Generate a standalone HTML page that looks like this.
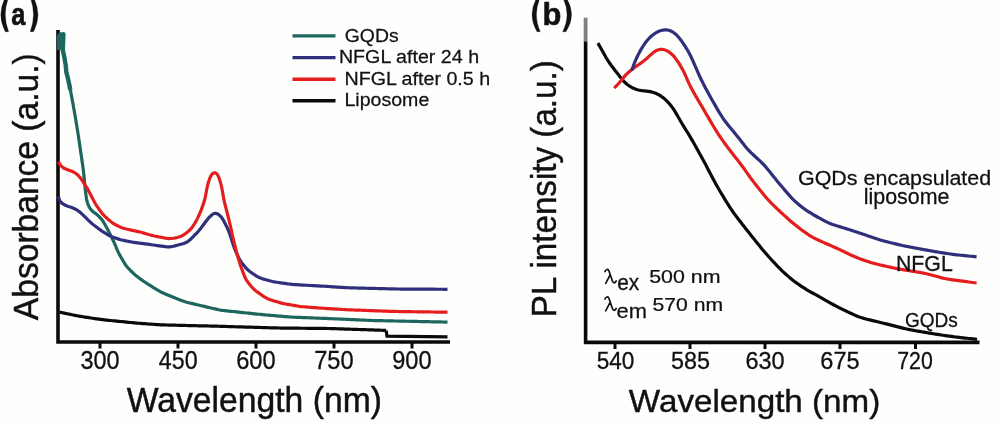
<!DOCTYPE html>
<html><head><meta charset="utf-8"><style>
html,body{margin:0;padding:0;background:#fefefd;}
svg{display:block;filter:blur(0.35px);}
</style></head><body>
<svg width="998" height="423" viewBox="0 0 998 423">
<rect width="998" height="423" fill="#fefefd"/>
<path d="M58,30 L58,342 L450,342" fill="none" stroke="#0a0a0a" stroke-width="3.6" stroke-linecap="butt"/>
<line x1="100" y1="343" x2="100" y2="348.5" stroke="#0a0a0a" stroke-width="3"/>
<line x1="178" y1="343" x2="178" y2="348.5" stroke="#0a0a0a" stroke-width="3"/>
<line x1="256" y1="343" x2="256" y2="348.5" stroke="#0a0a0a" stroke-width="3"/>
<line x1="334" y1="343" x2="334" y2="348.5" stroke="#0a0a0a" stroke-width="3"/>
<line x1="412" y1="343" x2="412" y2="348.5" stroke="#0a0a0a" stroke-width="3"/>
<path d="M59.20,50.00 L59.20,36.00 L60.50,34.20 L61.50,44.00 L63.40,34.20 L62.80,50.00 L64.50,58.00 L65.80,66.00 L66.30,72.00 L68.30,80.00 L70.40,90.00" fill="none" stroke="#1d665e" stroke-width="4.4" stroke-linejoin="round"/>
<path d="M59.30,312.10 L61.26,312.51 L63.23,312.91 L65.19,313.32 L67.15,313.73 L69.12,314.13 L71.08,314.54 L73.04,314.95 L75.01,315.35 L76.97,315.73 L78.94,316.10 L80.92,316.43 L82.90,316.75 L84.88,317.05 L86.86,317.35 L88.84,317.66 L90.83,317.96 L92.81,318.26 L94.79,318.56 L96.77,318.86 L98.76,319.15 L100.74,319.43 L102.73,319.69 L104.72,319.92 L106.71,320.13 L108.71,320.33 L110.70,320.53 L112.70,320.73 L114.69,320.92 L116.69,321.12 L118.68,321.32 L120.68,321.51 L122.67,321.71 L124.67,321.91 L126.66,322.10 L128.66,322.30 L130.65,322.50 L132.65,322.69 L134.65,322.88 L136.64,323.07 L138.64,323.24 L140.64,323.40 L142.64,323.55 L144.64,323.69 L146.64,323.84 L148.64,323.98 L150.64,324.12 L152.63,324.27 L154.63,324.41 L156.63,324.55 L158.63,324.69 L160.64,324.80 L162.64,324.90 L164.64,324.97 L166.64,325.02 L168.65,325.07 L170.65,325.12 L172.66,325.17 L174.66,325.21 L176.67,325.26 L178.67,325.31 L180.67,325.36 L182.68,325.40 L184.68,325.45 L186.69,325.50 L188.69,325.55 L190.70,325.59 L192.70,325.64 L194.70,325.69 L196.71,325.74 L198.71,325.78 L200.72,325.83 L202.72,325.88 L204.73,325.93 L206.73,325.97 L208.73,326.02 L210.74,326.07 L212.74,326.12 L214.75,326.16 L216.75,326.21 L218.76,326.26 L220.76,326.31 L222.76,326.37 L224.77,326.43 L226.77,326.49 L228.78,326.55 L230.78,326.61 L232.78,326.67 L234.79,326.73 L236.79,326.79 L238.80,326.85 L240.80,326.91 L242.80,326.97 L244.81,327.03 L246.81,327.09 L248.82,327.15 L250.82,327.21 L252.82,327.27 L254.83,327.33 L256.83,327.39 L258.84,327.45 L260.84,327.51 L262.84,327.57 L264.85,327.63 L266.85,327.69 L268.85,327.75 L270.86,327.81 L272.86,327.87 L274.87,327.92 L276.87,327.97 L278.88,328.00 L280.88,328.03 L282.88,328.05 L284.89,328.07 L286.89,328.09 L288.90,328.11 L290.90,328.13 L292.91,328.15 L294.91,328.17 L296.92,328.19 L298.92,328.21 L300.93,328.23 L302.93,328.25 L304.94,328.27 L306.94,328.29 L308.95,328.30 L310.95,328.32 L312.96,328.34 L314.96,328.36 L316.97,328.38 L318.97,328.40 L320.97,328.42 L322.98,328.44 L324.98,328.46 L326.99,328.49 L328.99,328.52 L331.00,328.57 L333.00,328.63 L335.01,328.69 L337.01,328.76 L339.01,328.82 L341.02,328.89 L343.02,328.96 L345.02,329.03 L347.03,329.09 L349.03,329.16 L351.03,329.23 L353.04,329.29 L355.04,329.36 L357.05,329.43 L359.05,329.50 L361.05,329.56 L363.06,329.63 L365.06,329.70 L367.06,329.76 L369.07,329.83 L371.07,329.90 L373.08,329.96 L375.08,330.03 L377.08,330.10 L379.09,330.17 L381.09,330.23 L383.09,330.30 L385.10,330.37 L386.10,330.40" fill="none" stroke="#0a0a0a" stroke-width="3.2" stroke-linejoin="round"/>
<path d="M386.10,330.40 L387.00,336.10 L447.50,336.80" fill="none" stroke="#0a0a0a" stroke-width="3.2" stroke-linejoin="miter"/>
<path d="M70.40,90.00 L70.76,91.97 L71.13,93.94 L71.49,95.90 L71.86,97.87 L72.22,99.84 L72.59,101.81 L72.95,103.77 L73.31,105.74 L73.67,107.71 L74.02,109.68 L74.36,111.65 L74.70,113.63 L75.03,115.60 L75.37,117.57 L75.70,119.54 L76.03,121.52 L76.37,123.49 L76.70,125.46 L77.03,127.44 L77.35,129.41 L77.66,131.39 L77.97,133.37 L78.26,135.35 L78.56,137.33 L78.85,139.30 L79.14,141.28 L79.44,143.26 L79.73,145.24 L80.02,147.22 L80.32,149.20 L80.61,151.18 L80.90,153.16 L81.19,155.14 L81.48,157.12 L81.77,159.10 L82.05,161.08 L82.34,163.06 L82.62,165.04 L82.90,167.03 L83.17,169.01 L83.41,170.99 L83.63,172.98 L83.84,174.97 L84.04,176.96 L84.23,178.96 L84.42,180.95 L84.62,182.94 L84.81,184.93 L85.01,186.92 L85.22,188.91 L85.45,190.90 L85.69,192.88 L85.95,194.87 L86.23,196.85 L86.54,198.82 L86.93,200.77 L87.45,202.68 L88.10,204.55 L88.88,206.37 L89.80,208.09 L90.91,209.65 L92.25,211.00 L93.78,212.21 L95.37,213.37 L96.92,214.60 L98.41,215.92 L99.82,217.32 L101.15,218.80 L102.37,220.36 L103.47,222.01 L104.49,223.72 L105.47,225.46 L106.44,227.21 L107.39,228.97 L108.32,230.74 L109.24,232.52 L110.15,234.30 L111.04,236.09 L111.94,237.88 L112.81,239.68 L113.67,241.49 L114.48,243.32 L115.26,245.16 L116.02,247.01 L116.78,248.86 L117.58,250.69 L118.43,252.49 L119.35,254.27 L120.31,256.02 L121.29,257.76 L122.29,259.50 L123.29,261.23 L124.31,262.94 L125.39,264.61 L126.57,266.21 L127.85,267.73 L129.22,269.18 L130.62,270.61 L132.04,272.01 L133.48,273.40 L134.96,274.73 L136.50,276.01 L138.07,277.24 L139.67,278.44 L141.28,279.62 L142.91,280.79 L144.55,281.94 L146.21,283.04 L147.90,284.12 L149.60,285.17 L151.30,286.22 L153.01,287.26 L154.72,288.31 L156.43,289.35 L158.14,290.38 L159.87,291.37 L161.64,292.30 L163.44,293.15 L165.28,293.94 L167.13,294.70 L168.98,295.45 L170.84,296.20 L172.69,296.95 L174.55,297.69 L176.41,298.44 L178.26,299.19 L180.12,299.93 L181.99,300.65 L183.86,301.33 L185.76,301.94 L187.68,302.48 L189.62,302.97 L191.57,303.43 L193.52,303.89 L195.47,304.35 L197.41,304.80 L199.36,305.26 L201.31,305.71 L203.26,306.17 L205.21,306.62 L207.16,307.08 L209.11,307.54 L211.05,307.99 L213.00,308.45 L214.95,308.90 L216.90,309.34 L218.86,309.75 L220.82,310.10 L222.80,310.40 L224.78,310.64 L226.77,310.86 L228.76,311.08 L230.75,311.29 L232.74,311.50 L234.73,311.71 L236.72,311.93 L238.71,312.14 L240.70,312.35 L242.69,312.56 L244.68,312.77 L246.67,312.98 L248.66,313.20 L250.65,313.41 L252.64,313.62 L254.63,313.83 L256.62,314.04 L258.61,314.25 L260.60,314.46 L262.59,314.65 L264.58,314.84 L266.58,315.02 L268.57,315.19 L270.57,315.36 L272.56,315.53 L274.55,315.70 L276.55,315.87 L278.54,316.04 L280.53,316.21 L282.53,316.38 L284.52,316.55 L286.52,316.71 L288.51,316.87 L290.51,317.01 L292.50,317.13 L294.50,317.23 L296.50,317.31 L298.50,317.39 L300.50,317.46 L302.50,317.54 L304.50,317.62 L306.50,317.69 L308.50,317.77 L310.50,317.85 L312.50,317.92 L314.50,318.00 L316.50,318.07 L318.50,318.15 L320.50,318.23 L322.50,318.31 L324.50,318.39 L326.50,318.47 L328.49,318.56 L330.49,318.65 L332.49,318.74 L334.49,318.83 L336.49,318.91 L338.49,319.00 L340.49,319.09 L342.49,319.18 L344.49,319.27 L346.49,319.36 L348.49,319.45 L350.48,319.54 L352.48,319.63 L354.48,319.72 L356.48,319.81 L358.48,319.90 L360.48,319.99 L362.48,320.08 L364.48,320.17 L366.48,320.26 L368.48,320.34 L370.48,320.42 L372.48,320.49 L374.48,320.55 L376.48,320.59 L378.48,320.64 L380.48,320.68 L382.48,320.72 L384.48,320.77 L386.48,320.81 L388.48,320.85 L390.48,320.89 L392.48,320.94 L394.48,320.98 L396.48,321.02 L398.48,321.06 L400.48,321.10 L402.49,321.15 L404.49,321.19 L406.49,321.23 L408.49,321.27 L410.49,321.32 L412.49,321.36 L414.49,321.40 L416.49,321.44 L418.49,321.49 L420.49,321.53 L422.49,321.57 L424.49,321.61 L426.49,321.66 L428.49,321.70 L430.49,321.74 L432.50,321.78 L434.50,321.82 L436.50,321.87 L438.50,321.91 L440.50,321.95 L442.50,321.99 L444.50,322.04 L446.50,322.08 L447.50,322.10" fill="none" stroke="#1d665e" stroke-width="3.2" stroke-linejoin="round"/>
<path d="M58.50,196.20 L58.92,198.12 L59.48,199.93 L60.34,201.54 L61.56,202.89 L63.09,204.01 L64.80,204.95 L66.61,205.74 L68.48,206.43 L70.37,207.06 L72.24,207.74 L74.07,208.52 L75.83,209.43 L77.53,210.46 L79.15,211.61 L80.70,212.86 L82.18,214.19 L83.63,215.57 L85.06,216.98 L86.48,218.39 L87.90,219.79 L89.33,221.19 L90.80,222.55 L92.30,223.87 L93.85,225.13 L95.43,226.36 L97.03,227.57 L98.63,228.76 L100.26,229.92 L101.91,231.05 L103.59,232.14 L105.28,233.21 L106.99,234.25 L108.72,235.24 L110.50,236.14 L112.33,236.92 L114.20,237.62 L116.09,238.27 L117.99,238.88 L119.91,239.45 L121.84,239.97 L123.79,240.43 L125.74,240.85 L127.70,241.25 L129.67,241.63 L131.64,242.00 L133.61,242.33 L135.59,242.62 L137.57,242.89 L139.56,243.15 L141.55,243.41 L143.53,243.67 L145.52,243.93 L147.50,244.19 L149.49,244.46 L151.47,244.73 L153.45,245.01 L155.44,245.29 L157.42,245.57 L159.40,245.85 L161.38,246.13 L163.37,246.41 L165.35,246.65 L167.32,246.82 L169.29,246.84 L171.24,246.65 L173.19,246.28 L175.13,245.82 L177.06,245.32 L179.00,244.80 L180.93,244.28 L182.85,243.74 L184.72,243.11 L186.50,242.32 L188.14,241.31 L189.66,240.08 L191.11,238.73 L192.53,237.32 L193.94,235.90 L195.35,234.47 L196.74,233.04 L198.10,231.57 L199.40,230.06 L200.65,228.50 L201.86,226.90 L203.05,225.29 L204.23,223.68 L205.42,222.07 L206.62,220.47 L207.87,218.91 L209.19,217.42 L210.58,216.02 L212.03,214.75 L213.52,213.78 L215.05,213.32 L216.60,213.53 L218.16,214.29 L219.66,215.43 L221.03,216.79 L222.21,218.34 L223.24,220.01 L224.19,221.77 L225.10,223.55 L225.99,225.34 L226.88,227.13 L227.74,228.94 L228.53,230.77 L229.25,232.63 L229.91,234.52 L230.53,236.42 L231.15,238.33 L231.76,240.23 L232.37,242.14 L232.99,244.05 L233.62,245.95 L234.28,247.83 L235.00,249.69 L235.79,251.53 L236.61,253.36 L237.46,255.17 L238.33,256.97 L239.24,258.75 L240.23,260.47 L241.33,262.13 L242.52,263.73 L243.76,265.30 L245.03,266.84 L246.34,268.34 L247.74,269.75 L249.23,271.04 L250.82,272.24 L252.46,273.39 L254.12,274.50 L255.79,275.59 L257.50,276.61 L259.26,277.51 L261.09,278.26 L262.98,278.90 L264.89,279.48 L266.82,280.03 L268.74,280.56 L270.68,281.06 L272.63,281.51 L274.59,281.89 L276.56,282.22 L278.54,282.52 L280.52,282.82 L282.50,283.11 L284.48,283.40 L286.47,283.69 L288.45,283.97 L290.44,284.21 L292.43,284.41 L294.42,284.56 L296.42,284.69 L298.42,284.81 L300.42,284.92 L302.42,285.03 L304.42,285.14 L306.42,285.26 L308.41,285.37 L310.41,285.48 L312.41,285.59 L314.41,285.70 L316.41,285.82 L318.41,285.93 L320.41,286.04 L322.41,286.16 L324.41,286.27 L326.41,286.40 L328.41,286.52 L330.40,286.65 L332.40,286.78 L334.40,286.91 L336.40,287.04 L338.40,287.17 L340.40,287.30 L342.40,287.42 L344.39,287.55 L346.39,287.66 L348.39,287.76 L350.39,287.84 L352.39,287.90 L354.40,287.96 L356.40,288.01 L358.40,288.06 L360.40,288.11 L362.40,288.16 L364.41,288.21 L366.41,288.26 L368.41,288.31 L370.41,288.36 L372.41,288.41 L374.42,288.47 L376.42,288.52 L378.42,288.57 L380.42,288.62 L382.42,288.67 L384.42,288.72 L386.43,288.77 L388.43,288.82 L390.43,288.87 L392.43,288.92 L394.43,288.96 L396.44,288.99 L398.44,289.01 L400.44,289.03 L402.44,289.04 L404.45,289.05 L406.45,289.06 L408.45,289.07 L410.45,289.09 L412.46,289.10 L414.46,289.11 L416.46,289.12 L418.46,289.13 L420.47,289.14 L422.47,289.16 L424.47,289.17 L426.47,289.18 L428.48,289.19 L430.48,289.20 L432.48,289.21 L434.48,289.22 L436.49,289.24 L438.49,289.25 L440.49,289.26 L442.49,289.27 L444.50,289.28 L446.50,289.29 L447.50,289.30" fill="none" stroke="#302f7c" stroke-width="3.2" stroke-linejoin="round"/>
<path d="M58.50,161.50 L59.34,163.27 L60.31,164.93 L61.52,166.37 L62.99,167.56 L64.67,168.52 L66.48,169.31 L68.35,169.99 L70.23,170.64 L72.08,171.35 L73.85,172.21 L75.52,173.24 L77.08,174.44 L78.54,175.78 L79.85,177.24 L81.04,178.83 L82.15,180.48 L83.23,182.17 L84.31,183.85 L85.40,185.53 L86.48,187.22 L87.52,188.92 L88.51,190.66 L89.46,192.42 L90.38,194.20 L91.29,195.99 L92.19,197.77 L93.10,199.55 L94.03,201.33 L95.00,203.08 L96.02,204.79 L97.12,206.46 L98.26,208.10 L99.43,209.73 L100.61,211.34 L101.82,212.93 L103.10,214.46 L104.45,215.92 L105.89,217.30 L107.37,218.64 L108.88,219.96 L110.41,221.24 L111.99,222.46 L113.63,223.58 L115.34,224.59 L117.11,225.52 L118.90,226.40 L120.72,227.22 L122.58,227.92 L124.48,228.52 L126.41,229.02 L128.36,229.47 L130.31,229.91 L132.27,230.34 L134.23,230.75 L136.19,231.16 L138.15,231.58 L140.09,232.05 L142.03,232.56 L143.95,233.12 L145.87,233.69 L147.79,234.26 L149.71,234.82 L151.64,235.33 L153.59,235.80 L155.54,236.22 L157.51,236.62 L159.47,237.01 L161.44,237.39 L163.40,237.77 L165.37,238.13 L167.33,238.41 L169.30,238.54 L171.26,238.47 L173.23,238.23 L175.19,237.89 L177.14,237.48 L179.06,236.99 L180.90,236.33 L182.65,235.46 L184.32,234.41 L185.93,233.25 L187.51,232.03 L189.03,230.75 L190.44,229.36 L191.71,227.85 L192.86,226.24 L193.96,224.57 L195.01,222.87 L196.02,221.15 L196.97,219.39 L197.86,217.60 L198.70,215.78 L199.52,213.96 L200.31,212.12 L201.07,210.27 L201.79,208.40 L202.47,206.52 L203.12,204.62 L203.74,202.72 L204.33,200.81 L204.85,198.88 L205.31,196.94 L205.70,194.97 L206.07,193.01 L206.42,191.04 L206.79,189.07 L207.19,187.11 L207.64,185.16 L208.16,183.23 L208.75,181.32 L209.39,179.43 L210.08,177.57 L210.91,175.82 L211.92,174.29 L213.13,173.17 L214.46,172.71 L215.79,173.05 L217.00,174.08 L218.01,175.58 L218.80,177.33 L219.46,179.19 L220.05,181.10 L220.60,183.02 L221.12,184.96 L221.59,186.90 L221.99,188.86 L222.35,190.83 L222.69,192.80 L223.03,194.78 L223.37,196.75 L223.74,198.72 L224.15,200.68 L224.59,202.63 L225.07,204.57 L225.56,206.51 L226.05,208.46 L226.54,210.40 L227.04,212.34 L227.53,214.28 L228.02,216.22 L228.52,218.16 L229.00,220.10 L229.48,222.05 L229.95,224.00 L230.39,225.95 L230.82,227.91 L231.25,229.86 L231.67,231.82 L232.09,233.78 L232.52,235.73 L232.97,237.69 L233.42,239.64 L233.89,241.58 L234.37,243.53 L234.86,245.47 L235.34,247.42 L235.83,249.36 L236.34,251.30 L236.87,253.23 L237.41,255.16 L237.95,257.08 L238.51,259.01 L239.06,260.93 L239.64,262.85 L240.26,264.75 L240.91,266.65 L241.59,268.53 L242.29,270.40 L243.00,272.28 L243.71,274.15 L244.45,276.01 L245.25,277.83 L246.17,279.58 L247.23,281.25 L248.40,282.86 L249.64,284.43 L250.91,285.97 L252.23,287.46 L253.62,288.88 L255.11,290.19 L256.68,291.42 L258.29,292.61 L259.91,293.78 L261.54,294.95 L263.18,296.09 L264.84,297.18 L266.57,298.15 L268.37,298.98 L270.23,299.68 L272.12,300.31 L274.03,300.91 L275.94,301.51 L277.86,302.09 L279.78,302.64 L281.72,303.15 L283.67,303.58 L285.63,303.97 L287.60,304.33 L289.57,304.67 L291.55,305.02 L293.52,305.36 L295.49,305.70 L297.47,306.03 L299.45,306.33 L301.43,306.58 L303.42,306.78 L305.42,306.95 L307.41,307.10 L309.41,307.25 L311.41,307.40 L313.41,307.54 L315.40,307.69 L317.40,307.84 L319.40,307.99 L321.40,308.13 L323.40,308.27 L325.39,308.41 L327.39,308.54 L329.39,308.66 L331.39,308.79 L333.39,308.91 L335.39,309.03 L337.39,309.15 L339.39,309.27 L341.39,309.39 L343.39,309.51 L345.39,309.62 L347.39,309.73 L349.39,309.83 L351.39,309.91 L353.39,309.99 L355.39,310.06 L357.39,310.13 L359.40,310.20 L361.40,310.27 L363.40,310.35 L365.40,310.42 L367.40,310.49 L369.40,310.56 L371.41,310.63 L373.41,310.71 L375.41,310.78 L377.41,310.85 L379.41,310.92 L381.41,310.99 L383.42,311.07 L385.42,311.14 L387.42,311.21 L389.42,311.28 L391.42,311.35 L393.43,311.42 L395.43,311.47 L397.43,311.52 L399.43,311.55 L401.43,311.58 L403.44,311.61 L405.44,311.63 L407.44,311.66 L409.45,311.69 L411.45,311.71 L413.45,311.74 L415.45,311.77 L417.46,311.80 L419.46,311.82 L421.46,311.85 L423.47,311.88 L425.47,311.90 L427.47,311.93 L429.47,311.96 L431.48,311.98 L433.48,312.01 L435.48,312.04 L437.49,312.07 L439.49,312.09 L441.49,312.12 L443.49,312.15 L445.50,312.17 L447.50,312.20" fill="none" stroke="#e41e1e" stroke-width="3.2" stroke-linejoin="round"/>
<line x1="292.5" y1="35.9" x2="335.5" y2="35.9" stroke="#1d665e" stroke-width="3.4"/>
<line x1="292.5" y1="57.6" x2="335.5" y2="57.6" stroke="#302f7c" stroke-width="3.4"/>
<line x1="292.5" y1="79.3" x2="335.5" y2="79.3" stroke="#e41e1e" stroke-width="3.4"/>
<line x1="292.5" y1="100.7" x2="335.5" y2="100.7" stroke="#0a0a0a" stroke-width="3.4"/>
<text x="344.78" y="41.70" font-family='"Liberation Sans", sans-serif' font-size="19.28" font-weight="normal" font-style="normal" textLength="53.86" lengthAdjust="spacingAndGlyphs" fill="#111111" stroke="#111111" stroke-width="0.251">GQDs</text>
<text x="338.93" y="62.90" font-family='"Liberation Sans", sans-serif' font-size="19.27" font-weight="normal" font-style="normal" textLength="140.16" lengthAdjust="spacingAndGlyphs" fill="#111111" stroke="#111111" stroke-width="0.251">NFGL after 24 h</text>
<text x="344.43" y="85.00" font-family='"Liberation Sans", sans-serif' font-size="19.27" font-weight="normal" font-style="normal" textLength="145.77" lengthAdjust="spacingAndGlyphs" fill="#111111" stroke="#111111" stroke-width="0.251">NFGL after 0.5 h</text>
<text x="344.44" y="106.30" font-family='"Liberation Sans", sans-serif' font-size="19.27" font-weight="normal" font-style="normal" textLength="84.87" lengthAdjust="spacingAndGlyphs" fill="#111111" stroke="#111111" stroke-width="0.251">Liposome</text>
<text x="80.47" y="369.30" font-family='"Liberation Sans", sans-serif' font-size="24.87" font-weight="normal" font-style="normal" textLength="39.08" lengthAdjust="spacingAndGlyphs" fill="#111111" stroke="#111111" stroke-width="0.323">300</text>
<text x="158.83" y="369.30" font-family='"Liberation Sans", sans-serif' font-size="24.87" font-weight="normal" font-style="normal" textLength="38.72" lengthAdjust="spacingAndGlyphs" fill="#111111" stroke="#111111" stroke-width="0.323">450</text>
<text x="236.17" y="369.30" font-family='"Liberation Sans", sans-serif' font-size="24.87" font-weight="normal" font-style="normal" textLength="39.39" lengthAdjust="spacingAndGlyphs" fill="#111111" stroke="#111111" stroke-width="0.323">600</text>
<text x="314.17" y="369.30" font-family='"Liberation Sans", sans-serif' font-size="24.87" font-weight="normal" font-style="normal" textLength="39.39" lengthAdjust="spacingAndGlyphs" fill="#111111" stroke="#111111" stroke-width="0.323">750</text>
<text x="392.23" y="369.30" font-family='"Liberation Sans", sans-serif' font-size="24.87" font-weight="normal" font-style="normal" textLength="39.33" lengthAdjust="spacingAndGlyphs" fill="#111111" stroke="#111111" stroke-width="0.323">900</text>
<text x="126.78" y="411.50" font-family='"Liberation Sans", sans-serif' font-size="34.25" font-weight="normal" font-style="normal" textLength="255.17" lengthAdjust="spacingAndGlyphs" fill="#111111" stroke="#111111" stroke-width="0.445">Wavelength (nm)</text>
<text transform="translate(38.30,320.13) rotate(-90)" x="0" y="0" font-family='"Liberation Sans", sans-serif' font-size="34.55" textLength="266.85" lengthAdjust="spacingAndGlyphs" fill="#111111" stroke="#111111" stroke-width="0.449">Absorbance (a.u.)</text>
<path d="M5.3,-2.5 Q-3.7,14.6 5.3,31.7 L8.6,31.7 Q1.9,14.6 8.6,-2.5 Z M33.5,-2.5 Q42.4,14.6 33.5,31.7 L30.2,31.7 Q36.8,14.6 30.2,-2.5 Z" fill="#111111" stroke="#111111" stroke-width="0.3"/>
<text x="11.13" y="25.30" font-family='"Liberation Sans", sans-serif' font-size="31.26" font-weight="bold" font-style="normal" textLength="14.20" lengthAdjust="spacingAndGlyphs" fill="#111111" stroke="#111111" stroke-width="0.600">a</text>
<line x1="585.6" y1="17.7" x2="585.6" y2="41.6" stroke="#808080" stroke-width="3.8"/>
<path d="M585.6,41.6 L585.6,342.4 L979.5,342.4" fill="none" stroke="#0a0a0a" stroke-width="3.6" stroke-linejoin="miter"/>
<line x1="615" y1="343" x2="615" y2="349" stroke="#0a0a0a" stroke-width="3"/>
<line x1="690" y1="343" x2="690" y2="349" stroke="#0a0a0a" stroke-width="3"/>
<line x1="765" y1="343" x2="765" y2="349" stroke="#0a0a0a" stroke-width="3"/>
<line x1="840" y1="343" x2="840" y2="349" stroke="#0a0a0a" stroke-width="3"/>
<line x1="915.5" y1="343" x2="915.5" y2="349" stroke="#0a0a0a" stroke-width="3"/>
<path d="M597.90,43.10 L598.89,44.84 L599.88,46.58 L600.86,48.32 L601.84,50.07 L602.81,51.82 L603.78,53.57 L604.76,55.31 L605.75,57.05 L606.78,58.76 L607.84,60.45 L608.94,62.12 L610.07,63.76 L611.24,65.39 L612.43,66.99 L613.64,68.58 L614.87,70.16 L616.11,71.73 L617.34,73.31 L618.57,74.88 L619.79,76.46 L621.03,78.03 L622.29,79.56 L623.59,81.05 L624.97,82.46 L626.42,83.79 L627.96,85.02 L629.57,86.15 L631.25,87.17 L632.99,88.07 L634.79,88.83 L636.65,89.47 L638.54,89.96 L640.47,90.34 L642.42,90.62 L644.39,90.84 L646.36,91.05 L648.32,91.30 L650.26,91.64 L652.18,92.09 L654.06,92.66 L655.89,93.36 L657.66,94.19 L659.38,95.14 L661.04,96.20 L662.64,97.36 L664.19,98.60 L665.68,99.91 L667.11,101.29 L668.48,102.72 L669.80,104.21 L671.05,105.75 L672.25,107.34 L673.39,108.97 L674.48,110.64 L675.52,112.34 L676.53,114.07 L677.52,115.80 L678.51,117.54 L679.51,119.28 L680.51,121.01 L681.52,122.73 L682.55,124.45 L683.58,126.16 L684.63,127.87 L685.69,129.57 L686.75,131.27 L687.81,132.96 L688.86,134.67 L689.90,136.38 L690.92,138.10 L691.92,139.83 L692.91,141.57 L693.89,143.31 L694.87,145.06 L695.84,146.81 L696.81,148.56 L697.78,150.31 L698.75,152.06 L699.72,153.81 L700.68,155.57 L701.65,157.32 L702.61,159.07 L703.57,160.83 L704.53,162.59 L705.48,164.35 L706.42,166.12 L707.35,167.89 L708.28,169.66 L709.20,171.44 L710.12,173.21 L711.05,174.99 L711.97,176.77 L712.90,178.54 L713.83,180.31 L714.77,182.08 L715.72,183.84 L716.69,185.59 L717.68,187.32 L718.69,189.05 L719.71,190.77 L720.74,192.49 L721.78,194.20 L722.82,195.91 L723.86,197.62 L724.90,199.33 L725.95,201.04 L726.99,202.74 L728.04,204.45 L729.11,206.14 L730.19,207.82 L731.30,209.48 L732.43,211.13 L733.59,212.76 L734.77,214.37 L735.97,215.98 L737.18,217.57 L738.39,219.16 L739.61,220.75 L740.84,222.33 L742.07,223.91 L743.30,225.49 L744.53,227.06 L745.77,228.64 L747.01,230.21 L748.25,231.79 L749.49,233.36 L750.73,234.92 L751.97,236.49 L753.22,238.06 L754.47,239.62 L755.73,241.18 L756.98,242.74 L758.24,244.30 L759.50,245.85 L760.77,247.40 L762.05,248.94 L763.33,250.47 L764.63,252.00 L765.93,253.51 L767.24,255.03 L768.56,256.53 L769.89,258.03 L771.23,259.51 L772.58,260.99 L773.95,262.45 L775.32,263.91 L776.71,265.35 L778.10,266.79 L779.50,268.22 L780.91,269.63 L782.35,271.03 L783.80,272.40 L785.27,273.75 L786.77,275.08 L788.28,276.39 L789.81,277.68 L791.35,278.95 L792.91,280.20 L794.48,281.43 L796.08,282.63 L797.71,283.80 L799.35,284.93 L801.01,286.05 L802.68,287.14 L804.37,288.21 L806.07,289.27 L807.79,290.29 L809.52,291.30 L811.26,292.29 L813.01,293.26 L814.76,294.22 L816.52,295.17 L818.28,296.13 L820.03,297.09 L821.79,298.06 L823.53,299.04 L825.27,300.02 L827.01,301.02 L828.74,302.02 L830.47,303.02 L832.21,304.01 L833.96,304.99 L835.72,305.94 L837.49,306.87 L839.27,307.77 L841.07,308.65 L842.87,309.52 L844.68,310.38 L846.49,311.24 L848.30,312.09 L850.11,312.94 L851.92,313.78 L853.74,314.61 L855.57,315.42 L857.41,316.18 L859.27,316.90 L861.15,317.56 L863.05,318.15 L864.97,318.69 L866.90,319.20 L868.84,319.68 L870.79,320.15 L872.73,320.62 L874.68,321.08 L876.63,321.55 L878.57,322.01 L880.52,322.48 L882.46,322.96 L884.41,323.44 L886.35,323.92 L888.29,324.42 L890.23,324.91 L892.17,325.41 L894.11,325.90 L896.04,326.40 L897.98,326.90 L899.92,327.39 L901.86,327.87 L903.81,328.34 L905.76,328.80 L907.71,329.22 L909.67,329.63 L911.63,330.01 L913.60,330.38 L915.57,330.73 L917.54,331.08 L919.51,331.42 L921.49,331.76 L923.46,332.10 L925.43,332.44 L927.40,332.78 L929.38,333.11 L931.35,333.43 L933.33,333.75 L935.31,334.06 L937.28,334.36 L939.26,334.67 L941.24,334.97 L943.22,335.27 L945.20,335.57 L947.18,335.87 L949.16,336.16 L951.14,336.44 L953.12,336.71 L955.11,336.97 L957.09,337.21 L959.08,337.44 L961.07,337.65 L963.06,337.86 L965.05,338.07 L967.04,338.28 L969.04,338.48 L971.03,338.69 L973.02,338.89 L975.01,339.10 L977.00,339.30" fill="none" stroke="#0a0a0a" stroke-width="3.2" stroke-linejoin="round"/>
<path d="M614.20,88.10 L615.60,86.68 L616.99,85.24 L618.35,83.78 L619.66,82.28 L620.94,80.75 L622.19,79.21 L623.43,77.66 L624.71,76.15 L626.04,74.68 L627.44,73.29 L628.91,71.96 L630.43,70.68 L632.00,69.45 L633.59,68.25 L635.20,67.06 L636.83,65.90 L638.46,64.74 L640.10,63.59 L641.72,62.43 L643.32,61.24 L644.88,60.01 L646.40,58.73 L647.88,57.40 L649.33,56.05 L650.79,54.70 L652.27,53.40 L653.79,52.20 L655.38,51.14 L657.05,50.30 L658.78,49.72 L660.57,49.43 L662.39,49.45 L664.19,49.76 L665.96,50.35 L667.67,51.17 L669.29,52.20 L670.83,53.38 L672.27,54.70 L673.63,56.12 L674.91,57.63 L676.13,59.20 L677.29,60.82 L678.41,62.47 L679.48,64.16 L680.51,65.87 L681.51,67.60 L682.48,69.35 L683.41,71.12 L684.29,72.91 L685.14,74.72 L685.95,76.54 L686.75,78.37 L687.54,80.21 L688.35,82.03 L689.19,83.85 L690.07,85.64 L690.98,87.42 L691.92,89.19 L692.87,90.95 L693.84,92.70 L694.81,94.45 L695.81,96.19 L696.81,97.92 L697.82,99.65 L698.84,101.37 L699.87,103.09 L700.89,104.82 L701.91,106.54 L702.93,108.26 L703.94,109.99 L704.95,111.72 L705.95,113.46 L706.95,115.19 L707.96,116.92 L708.96,118.65 L709.97,120.38 L710.98,122.11 L712.00,123.84 L713.01,125.56 L714.04,127.29 L715.07,129.00 L716.12,130.70 L717.19,132.40 L718.28,134.08 L719.39,135.74 L720.51,137.40 L721.65,139.04 L722.80,140.68 L723.96,142.31 L725.14,143.94 L726.32,145.55 L727.52,147.15 L728.73,148.75 L729.95,150.33 L731.18,151.92 L732.41,153.50 L733.64,155.08 L734.88,156.65 L736.11,158.23 L737.35,159.80 L738.58,161.38 L739.80,162.97 L741.00,164.57 L742.19,166.18 L743.37,167.80 L744.54,169.43 L745.70,171.06 L746.86,172.69 L748.02,174.32 L749.18,175.95 L750.35,177.57 L751.54,179.18 L752.75,180.79 L753.96,182.37 L755.19,183.95 L756.43,185.53 L757.68,187.09 L758.93,188.66 L760.18,190.22 L761.43,191.78 L762.69,193.34 L763.95,194.89 L765.23,196.43 L766.53,197.96 L767.85,199.45 L769.21,200.92 L770.59,202.37 L772.00,203.79 L773.42,205.19 L774.86,206.59 L776.30,207.97 L777.75,209.35 L779.21,210.73 L780.67,212.10 L782.14,213.46 L783.61,214.81 L785.09,216.17 L786.57,217.52 L788.05,218.86 L789.55,220.20 L791.05,221.51 L792.57,222.81 L794.12,224.08 L795.68,225.33 L797.26,226.55 L798.86,227.76 L800.46,228.96 L802.07,230.16 L803.68,231.34 L805.30,232.51 L806.94,233.66 L808.59,234.78 L810.28,235.85 L811.99,236.86 L813.74,237.82 L815.51,238.73 L817.31,239.60 L819.13,240.44 L820.95,241.27 L822.78,242.09 L824.61,242.89 L826.44,243.70 L828.28,244.50 L830.11,245.30 L831.95,246.11 L833.78,246.92 L835.60,247.74 L837.43,248.57 L839.24,249.41 L841.05,250.27 L842.86,251.14 L844.66,252.01 L846.46,252.88 L848.27,253.75 L850.07,254.61 L851.89,255.45 L853.71,256.27 L855.55,257.06 L857.40,257.81 L859.27,258.52 L861.15,259.21 L863.04,259.88 L864.93,260.53 L866.82,261.18 L868.72,261.80 L870.63,262.41 L872.55,262.98 L874.47,263.52 L876.41,264.03 L878.35,264.51 L880.30,264.97 L882.25,265.42 L884.20,265.86 L886.16,266.30 L888.11,266.73 L890.07,267.16 L892.02,267.58 L893.98,268.00 L895.94,268.39 L897.91,268.77 L899.88,269.13 L901.85,269.48 L903.83,269.82 L905.80,270.14 L907.78,270.47 L909.75,270.79 L911.73,271.11 L913.71,271.44 L915.68,271.76 L917.66,272.09 L919.63,272.42 L921.60,272.77 L923.57,273.14 L925.53,273.55 L927.48,273.98 L929.42,274.46 L931.36,274.96 L933.29,275.48 L935.22,276.02 L937.15,276.55 L939.08,277.08 L941.01,277.60 L942.95,278.08 L944.90,278.53 L946.85,278.93 L948.82,279.28 L950.79,279.60 L952.77,279.89 L954.75,280.16 L956.74,280.43 L958.72,280.69 L960.71,280.94 L962.70,281.20 L964.68,281.46 L966.67,281.71 L968.66,281.97 L970.64,282.23 L972.63,282.49 L974.61,282.74 L976.60,283.00" fill="none" stroke="#e41e1e" stroke-width="3.2" stroke-linejoin="round"/>
<path d="M631.70,70.50 L632.37,68.62 L633.05,66.73 L633.74,64.86 L634.45,62.99 L635.20,61.14 L635.99,59.31 L636.81,57.49 L637.67,55.69 L638.57,53.90 L639.51,52.14 L640.48,50.40 L641.49,48.67 L642.54,46.97 L643.62,45.30 L644.75,43.66 L645.93,42.05 L647.17,40.50 L648.46,39.00 L649.82,37.56 L651.25,36.20 L652.75,34.93 L654.33,33.78 L655.99,32.74 L657.72,31.82 L659.50,31.06 L661.34,30.46 L663.20,30.06 L665.08,29.89 L666.95,29.96 L668.78,30.30 L670.56,30.89 L672.25,31.72 L673.86,32.75 L675.37,33.94 L676.80,35.28 L678.15,36.72 L679.42,38.23 L680.64,39.80 L681.82,41.41 L682.96,43.05 L684.07,44.71 L685.16,46.38 L686.22,48.08 L687.25,49.79 L688.25,51.52 L689.21,53.27 L690.13,55.04 L691.01,56.83 L691.86,58.64 L692.69,60.46 L693.51,62.28 L694.32,64.11 L695.12,65.94 L695.93,67.77 L696.73,69.61 L697.53,71.44 L698.33,73.27 L699.14,75.10 L699.96,76.92 L700.81,78.74 L701.67,80.54 L702.56,82.33 L703.48,84.11 L704.41,85.87 L705.36,87.64 L706.31,89.39 L707.27,91.15 L708.23,92.91 L709.19,94.66 L710.16,96.41 L711.12,98.16 L712.09,99.91 L713.07,101.66 L714.05,103.40 L715.04,105.14 L716.03,106.88 L717.03,108.61 L718.04,110.34 L719.06,112.06 L720.09,113.77 L721.15,115.47 L722.23,117.14 L723.35,118.79 L724.51,120.42 L725.71,122.02 L726.93,123.59 L728.18,125.16 L729.44,126.71 L730.71,128.26 L731.98,129.80 L733.26,131.34 L734.54,132.88 L735.81,134.43 L737.07,135.98 L738.32,137.54 L739.56,139.10 L740.80,140.68 L742.03,142.26 L743.26,143.83 L744.50,145.40 L745.76,146.95 L747.05,148.47 L748.38,149.95 L749.75,151.40 L751.16,152.81 L752.60,154.19 L754.07,155.54 L755.54,156.89 L757.02,158.24 L758.50,159.59 L759.96,160.95 L761.40,162.33 L762.81,163.75 L764.18,165.19 L765.51,166.68 L766.81,168.19 L768.08,169.73 L769.33,171.29 L770.58,172.86 L771.82,174.42 L773.06,175.99 L774.31,177.55 L775.56,179.11 L776.83,180.67 L778.10,182.21 L779.38,183.75 L780.66,185.28 L781.96,186.81 L783.25,188.33 L784.55,189.85 L785.85,191.37 L787.15,192.89 L788.46,194.40 L789.79,195.90 L791.14,197.37 L792.51,198.81 L793.93,200.21 L795.39,201.57 L796.88,202.89 L798.40,204.18 L799.94,205.46 L801.50,206.71 L803.08,207.93 L804.68,209.12 L806.31,210.28 L807.96,211.39 L809.65,212.46 L811.35,213.49 L813.07,214.51 L814.80,215.51 L816.54,216.50 L818.28,217.49 L820.03,218.46 L821.79,219.42 L823.55,220.35 L825.33,221.26 L827.13,222.12 L828.95,222.94 L830.79,223.70 L832.65,224.41 L834.53,225.08 L836.43,225.70 L838.34,226.30 L840.25,226.89 L842.16,227.47 L844.08,228.05 L845.99,228.64 L847.90,229.23 L849.81,229.83 L851.71,230.44 L853.62,231.06 L855.52,231.68 L857.42,232.31 L859.32,232.94 L861.21,233.58 L863.11,234.21 L865.00,234.86 L866.90,235.50 L868.79,236.16 L870.68,236.81 L872.57,237.46 L874.46,238.11 L876.36,238.74 L878.26,239.34 L880.18,239.92 L882.10,240.46 L884.03,240.99 L885.96,241.49 L887.90,241.98 L889.84,242.47 L891.78,242.96 L893.73,243.44 L895.67,243.91 L897.61,244.39 L899.56,244.85 L901.51,245.29 L903.46,245.72 L905.42,246.13 L907.38,246.52 L909.35,246.90 L911.31,247.27 L913.28,247.63 L915.25,248.00 L917.21,248.36 L919.18,248.72 L921.15,249.09 L923.12,249.45 L925.08,249.81 L927.05,250.18 L929.02,250.54 L930.99,250.90 L932.96,251.25 L934.93,251.60 L936.90,251.94 L938.87,252.27 L940.85,252.58 L942.82,252.88 L944.80,253.18 L946.78,253.47 L948.76,253.75 L950.74,254.03 L952.73,254.30 L954.71,254.56 L956.69,254.80 L958.68,255.03 L960.67,255.24 L962.66,255.44 L964.65,255.64 L966.64,255.84 L968.63,256.03 L970.63,256.22 L972.62,256.42 L974.61,256.61 L976.60,256.80" fill="none" stroke="#302f7c" stroke-width="3.2" stroke-linejoin="round"/>
<text x="596.65" y="369.30" font-family='"Liberation Sans", sans-serif' font-size="23.44" font-weight="normal" font-style="normal" textLength="37.67" lengthAdjust="spacingAndGlyphs" fill="#111111" stroke="#111111" stroke-width="0.305">540</text>
<text x="671.12" y="369.30" font-family='"Liberation Sans", sans-serif' font-size="23.44" font-weight="normal" font-style="normal" textLength="38.99" lengthAdjust="spacingAndGlyphs" fill="#111111" stroke="#111111" stroke-width="0.305">585</text>
<text x="745.38" y="369.30" font-family='"Liberation Sans", sans-serif' font-size="23.44" font-weight="normal" font-style="normal" textLength="39.18" lengthAdjust="spacingAndGlyphs" fill="#111111" stroke="#111111" stroke-width="0.305">630</text>
<text x="820.27" y="369.30" font-family='"Liberation Sans", sans-serif' font-size="23.44" font-weight="normal" font-style="normal" textLength="39.35" lengthAdjust="spacingAndGlyphs" fill="#111111" stroke="#111111" stroke-width="0.305">675</text>
<text x="897.29" y="369.30" font-family='"Liberation Sans", sans-serif' font-size="23.44" font-weight="normal" font-style="normal" textLength="35.48" lengthAdjust="spacingAndGlyphs" fill="#111111" stroke="#111111" stroke-width="0.305">720</text>
<text x="628.88" y="411.50" font-family='"Liberation Sans", sans-serif' font-size="32.22" font-weight="normal" font-style="normal" textLength="251.34" lengthAdjust="spacingAndGlyphs" fill="#111111" stroke="#111111" stroke-width="0.419">Wavelength (nm)</text>
<text transform="translate(555.60,317.19) rotate(-90)" x="0" y="0" font-family='"Liberation Sans", sans-serif' font-size="34.40" textLength="257.01" lengthAdjust="spacingAndGlyphs" fill="#111111" stroke="#111111" stroke-width="0.447">PL intensity (a.u.)</text>
<path d="M537.0,-2.5 Q527.0,14.6 537.0,31.7 L540.2,31.7 Q532.6,14.6 540.2,-2.5 Z M566.0,-2.5 Q577.0,14.6 566.0,31.7 L562.7,31.7 Q571.4,14.6 562.7,-2.5 Z" fill="#111111" stroke="#111111" stroke-width="0.3"/>
<text x="542.39" y="25.30" font-family='"Liberation Sans", sans-serif' font-size="32.28" font-weight="bold" font-style="normal" textLength="18.87" lengthAdjust="spacingAndGlyphs" fill="#111111" stroke="#111111" stroke-width="0.600">b</text>
<text x="797.98" y="185.00" font-family='"Liberation Sans", sans-serif' font-size="20.86" font-weight="normal" font-style="normal" textLength="193.22" lengthAdjust="spacingAndGlyphs" fill="#111111" stroke="#111111" stroke-width="0.271">GQDs encapsulated</text>
<text x="863.81" y="204.40" font-family='"Liberation Sans", sans-serif' font-size="22.41" font-weight="normal" font-style="normal" textLength="85.60" lengthAdjust="spacingAndGlyphs" fill="#111111" stroke="#111111" stroke-width="0.291">liposome</text>
<text x="895.99" y="270.80" font-family='"Liberation Sans", sans-serif' font-size="21.43" font-weight="normal" font-style="normal" textLength="56.79" lengthAdjust="spacingAndGlyphs" fill="#111111" stroke="#111111" stroke-width="0.279">NFGL</text>
<text x="904.90" y="326.50" font-family='"Liberation Sans", sans-serif' font-size="20.86" font-weight="normal" font-style="normal" textLength="52.93" lengthAdjust="spacingAndGlyphs" fill="#111111" stroke="#111111" stroke-width="0.271">GQDs</text>
<path d="M605.0,271.6 C605.7,269.4 607.9,268.4 609.0,271.0 L612.4,281.0 C613.0,282.9 614.4,283.8 616.2,281.0 M610.0,275.2 L605.7,283.3" fill="none" stroke="#111111" stroke-width="1.7" stroke-linecap="round"/>
<text x="617.27" y="290.00" font-family='"Liberation Sans", sans-serif' font-size="21.30" font-weight="normal" font-style="normal" textLength="21.97" lengthAdjust="spacingAndGlyphs" fill="#111111" stroke="#111111" stroke-width="0.277">ex</text>
<text x="649.20" y="283.40" font-family='"Liberation Sans", sans-serif' font-size="19.00" font-weight="normal" font-style="normal" textLength="71.25" lengthAdjust="spacingAndGlyphs" fill="#111111" stroke="#111111" stroke-width="0.247">500 nm</text>
<path d="M605.0,299.1 C605.7,296.9 607.9,295.9 609.0,298.5 L612.4,308.5 C613.0,310.4 614.4,311.3 616.2,308.5 M610.0,302.7 L605.7,310.8" fill="none" stroke="#111111" stroke-width="1.7" stroke-linecap="round"/>
<text x="616.52" y="318.20" font-family='"Liberation Sans", sans-serif' font-size="21.12" font-weight="normal" font-style="normal" textLength="30.39" lengthAdjust="spacingAndGlyphs" fill="#111111" stroke="#111111" stroke-width="0.275">em</text>
<text x="652.50" y="311.00" font-family='"Liberation Sans", sans-serif' font-size="19.00" font-weight="normal" font-style="normal" textLength="70.53" lengthAdjust="spacingAndGlyphs" fill="#111111" stroke="#111111" stroke-width="0.247">570 nm</text>
</svg></body></html>
